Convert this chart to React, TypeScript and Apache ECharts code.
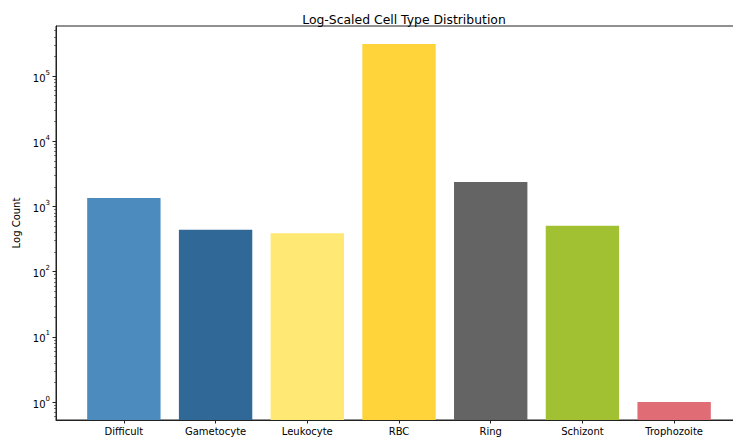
import React, { useEffect, useRef } from "react";
import * as echarts from "echarts";

const categories = ["Difficult", "Gametocyte", "Leukocyte", "RBC", "Ring", "Schizont", "Trophozoite"];
const counts = [1349, 441, 387, 311000, 2372, 508, 1];
const colors = ["#4B8BBE", "#306998", "#FFE873", "#FFD43B", "#646464", "#A1C133", "#E06C75"];
const majorTicks = [1, 10, 100, 1000, 10000, 100000];
const tickExponents = ["0", "1", "2", "3", "4", "5"];
const minorMultipliers = [2, 3, 4, 5, 6, 7, 8, 9];
const decades = [0.1, 1, 10, 100, 1000, 10000, 100000];

const Y_MIN = 0.531;
const Y_MAX = 586000;
const FONT = "DejaVu Sans";

export default function App() {
  const ref = useRef<HTMLDivElement>(null);
  useEffect(() => {
    if (!ref.current) return;
    const chart = echarts.init(ref.current, null, { renderer: "svg" });
    const minorTicks: number[] = [];
    decades.forEach((d) => minorMultipliers.forEach((m) => {
      const v = +(d * m).toPrecision(3);
      if (v > Y_MIN && v < Y_MAX) minorTicks.push(v);
    }));
    const data = categories.map((c, i) => [i, counts[i]]);
    chart.setOption({
      animation: false,
      backgroundColor: "#ffffff",
      textStyle: { fontFamily: FONT },
      title: {
        text: "Log-Scaled Cell Type Distribution",
        left: 399,
        textAlign: "center",
        top: 8,
        textStyle: { fontFamily: FONT, fontSize: 12.4, fontWeight: "normal", color: "#000" },
      },
      grid: { left: 56, right: 1, top: 26, bottom: 23, show: true, borderColor: "#222", borderWidth: 1, backgroundColor: "transparent" },
      xAxis: {
        type: "value",
        min: -0.74,
        max: 6.74,
        splitLine: { show: false },
        axisLine: { show: true, onZero: false, lineStyle: { color: "#222", width: 1 } },
        axisTick: { show: true, length: 3.5, lineStyle: { color: "#222" }, customValues: categories.map((c, i) => i) },
        axisLabel: {
          color: "#000",
          fontSize: 10,
          fontFamily: FONT,
          margin: 6,
          customValues: categories.map((c, i) => i),
          formatter: (v: number) => categories[Math.round(v)] ?? "",
        },
      },
      yAxis: [
        {
          type: "log",
          min: Y_MIN,
          max: Y_MAX,
          name: "Log Count",
          nameLocation: "middle",
          nameGap: 31,
          nameTextStyle: { color: "#000", fontSize: 10, fontFamily: FONT },
          splitLine: { show: false },
          axisLine: { show: true, onZero: false, lineStyle: { color: "#222", width: 1 } },
          axisTick: { show: true, length: 3.5, lineStyle: { color: "#222" }, customValues: majorTicks },
          axisLabel: {
            color: "#000",
            fontSize: 10,
            fontFamily: FONT,
            margin: 6,
            customValues: majorTicks,
            formatter: (v: number) => {
              const idx = majorTicks.findIndex((t) => Math.abs(t - v) / t < 1e-6);
              return idx >= 0 ? `{b|10}{s|${tickExponents[idx]}}` : "";
            },
            rich: {
              b: { fontSize: 10, fontFamily: FONT, color: "#000", lineHeight: 14, verticalAlign: "bottom" },
              s: { fontSize: 7, fontFamily: FONT, color: "#000", lineHeight: 14, verticalAlign: "top" },
            },
          },
        },
        {
          type: "log",
          min: Y_MIN,
          max: Y_MAX,
          position: "left",
          splitLine: { show: false },
          axisLine: { show: false, onZero: false },
          axisTick: { show: true, length: 2, lineStyle: { color: "#222", width: 0.6 }, customValues: minorTicks },
          axisLabel: { show: false },
        },
      ],
      series: [
        {
          type: "custom",
          data,
          encode: { x: 0, y: 1 },
          renderItem: (params: any, api: any) => {
            const x = api.value(0);
            const v = api.value(1);
            const top = api.coord([x, v]);
            const left = api.coord([x - 0.4, v])[0];
            const right = api.coord([x + 0.4, v])[0];
            const cs = params.coordSys;
            const bottom = cs.y + cs.height;
            return {
              type: "rect",
              shape: { x: left, y: top[1], width: right - left, height: bottom - top[1] },
              style: { fill: colors[params.dataIndex] },
            };
          },
        },
      ],
    });
    return () => chart.dispose();
  }, []);
  return (
    <div style={{ position: "fixed", left: 0, top: 0, width: 733, height: 443, overflow: "hidden", background: "#fff" }}>
      <div ref={ref} style={{ width: 743, height: 443 }} />
    </div>
  );
}
